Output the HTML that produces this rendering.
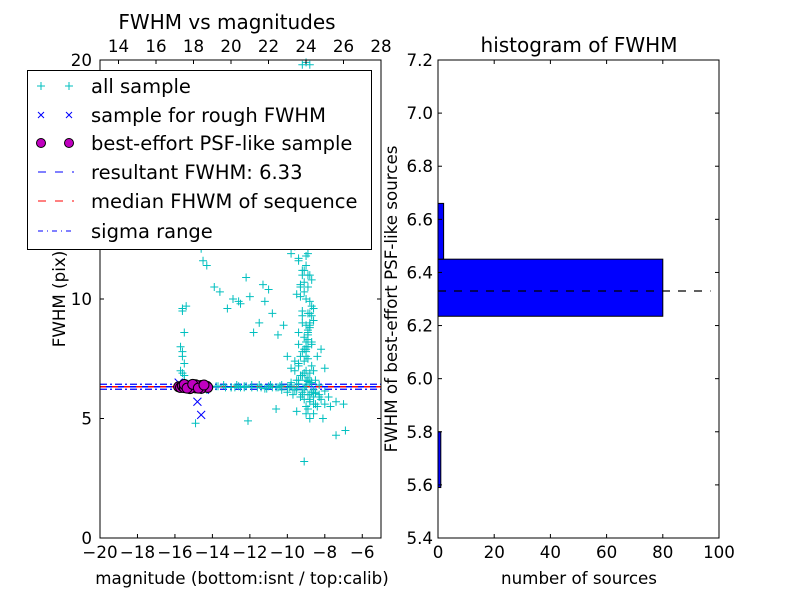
<!DOCTYPE html>
<html><head><meta charset="utf-8"><style>
body{margin:0;background:#fff;}
svg{display:block;font-family:"DejaVu Sans","Liberation Sans",sans-serif;}
</style></head><body>
<svg id="fig" width="800" height="600" viewBox="0 0 800 600"></svg>
<script>
// ---- data ----
const allMag = [-15.6,-15.5,-15.7,-15.6,-15.5,-15.6,-15.4,-15.6,-15.5,-15.6,-15.7,-15.5,-14.6,-14.5,-14.3,-14.8,-13.9,-13.6,-13.2,-12.9,-12.5,-12.2,-12.0,-11.8,-11.5,-11.2,-11.0,-10.8,-10.5,-10.2,-10.0,-9.8,-9.6,-9.4,-9.2,-9.0,-8.8,-8.6,-8.4,-8.2,-8.0,-15.8,-15.3,-15.1,-14.9,-14.2,-13.8,-13.4,-13.0,-12.6,-12.3,-11.9,-11.4,-11.0,-10.6,-10.3,-9.9,-9.5,-9.1,-8.7,-8.3,-7.8,-7.4,-7.0,-14.6,-14.5,-14.3,-13.0,-12.7,-12.5,-12.2,-11.6,-11.2,-10.9,-10.5,-10.3,-10.0,-9.8,-9.7,-9.5,-9.4,-9.3,-9.2,-9.1,-9.0,-8.9,-8.8,-8.7,-8.6,-8.5,-9.6,-9.4,-9.3,-9.1,-9.0,-8.9,-8.8,-8.7,-8.6,-9.5,-9.3,-9.2,-9.0,-8.9,-8.8,-8.7,-9.4,-9.2,-9.1,-9.0,-8.9,-8.8,-9.3,-9.1,-9.0,-8.8,-9.6,-9.2,-9.0,-8.7,-9.3,-9.0,-8.9,-8.6,-9.2,-9.1,-9.4,-8.8,-8.5,-8.3,-8.0,-7.7,-9.6,-9.2,-8.9,-8.6,-9.0,-8.8,-9.9,-10.2,-9.5,-9.3,-9.1,-9.8,-8.9,-8.7,-9.2,-9.0,-8.8,-11.3,-12.6,-14.9,-12.1,-10.6,-7.4,-6.9,-9.1,-9.3,-9.0,-9.4,-9.2,
 -9.1,-9.0,-8.9,-8.8,-9.2,-9.0,-8.9,-8.8,-8.7,-9.1,-9.0,-8.9,-8.8,-9.2,-9.1,-8.9,-8.7,-9.0,-8.9,-8.8,-9.3,-9.1,-9.0,-8.8,-8.6,-9.0,-8.9,-8.7,-9.4,-9.2,-9.0,-8.8,-8.5,-8.2,-8.4,-8.6,-8.1,-8.9,-9.5,-9.7,-10.0,-10.4,-10.8,-11.1,-11.5,-11.9,-12.3,-12.8,-13.3,-13.7,-14.1,-9.8,-9.4,-9.6,-8.3,-8.0,-8.5,-8.7,-8.9,-9.2,-9.5];
const allFwhm = [7.6,7.3,7.0,6.9,8.6,9.6,9.7,9.5,6.8,7.8,8.0,6.6,12.1,11.6,11.4,12.6,10.5,10.3,9.6,10.0,9.8,10.9,10.1,8.6,9.0,9.9,10.4,9.4,8.5,8.9,7.6,7.1,7.4,8.1,9.3,7.8,8.8,9.1,7.6,7.9,7.1,6.35,6.3,6.4,6.35,6.3,6.35,6.4,6.3,6.35,6.3,6.4,6.3,6.35,6.3,6.4,6.3,6.2,6.3,6.1,6.0,5.9,5.7,5.6,6.4,6.3,6.2,6.3,6.4,6.3,6.35,6.3,6.25,6.4,6.3,6.2,6.1,6.5,6.0,6.3,6.6,5.9,6.8,6.2,6.4,6.0,5.8,6.5,5.6,6.1,7.0,7.3,7.6,7.9,8.2,8.6,8.9,9.3,9.6,10.2,10.6,11.0,11.4,11.9,12.3,12.8,7.2,7.8,8.4,8.9,9.4,9.9,10.5,11.2,11.8,13.3,13.0,12.9,13.5,10.8,6.8,7.6,8.0,6.2,9.0,10.3,11.6,6.9,6.6,5.9,5.6,5.5,12.2,12.4,11.0,7.0,5.2,5.0,13.3,12.8,14.0,14.5,13.9,11.9,8.3,9.7,19.8,19.9,19.8,10.6,9.9,4.8,4.9,5.4,4.3,4.5,3.2,13.0,12.6,11.7,11.2,10.7,
 8.0,8.5,9.0,9.5,10.0,10.5,11.0,8.2,7.4,7.0,6.7,6.5,6.1,5.8,6.6,7.2,7.9,8.7,9.4,10.1,6.9,6.4,6.0,5.9,5.5,7.5,8.1,8.6,6.8,6.6,5.7,5.6,5.8,5.5,5.2,5.0,5.4,5.3,6.2,6.3,6.35,6.3,6.25,6.4,6.3,6.35,6.3,6.3,6.35,6.3,6.4,6.45,6.2,6.4,6.15,6.05,6.5,6.55,6.0,6.6,6.7];
const roughMag = [-14.8,-14.6,-15.5,-15.0,-15.8,-14.4];
const roughFwhm = [5.7,5.15,6.4,6.3,6.5,6.2];
const psfMag = [-15.8,-15.7,-15.6,-15.5,-15.4,-15.3,-15.2,-15.1,-15.0,-14.9,-14.8,-14.7,-14.6,-14.5,-14.4,-14.3,-14.25,-15.5,-15.2,-14.9,-14.6,-15.35,-15.05,-14.75,-14.45];
const psfFwhm = [6.33,6.3,6.36,6.29,6.35,6.32,6.37,6.3,6.34,6.28,6.36,6.31,6.38,6.3,6.33,6.35,6.3,6.42,6.25,6.41,6.26,6.27,6.43,6.27,6.4];
const resultFwhm = 6.33;
const xTicksBottom = [-20,-18,-16,-14,-12,-10,-8,-6];
const xTicksTop = [14,16,18,20,22,24,26,28];
const yTicksLeft = [0,5,10,20];
const histEdges = [5.59,5.80,6.02,6.235,6.45,6.66];
const histCounts = [1,0,0,80,2];
const histYTicks = [5.4,5.6,5.8,6.0,6.2,6.4,6.6,6.8,7.0,7.2];
const histXTicks = [0,20,40,60,80,100];

const NS="http://www.w3.org/2000/svg";
const svg=document.getElementById('fig');
function mk(tag,attrs,parent){const e=document.createElementNS(NS,tag);for(const k in attrs)e.setAttribute(k,attrs[k]);(parent||svg).appendChild(e);return e;}
function txt(x,y,s,size,anchor,extra,parent){const t=mk('text',Object.assign({x:x,y:y,'font-size':size,'text-anchor':anchor||'middle',fill:'#000'},extra||{}),parent);t.textContent=s;return t;}

const L={x0:100,x1:381,y0:60,y1:538};
const lx=m=>L.x0+(m+20)/15*(L.x1-L.x0);
const ltop=m=>118.5+(m-14)*18.75;
const ly=f=>L.y1-f/20*(L.y1-L.y0);

const gL=mk('g',{});


const lines=mk('g',{},gL);


mk('line',{x1:L.x0,x2:L.x1,y1:ly(resultFwhm)-2.5,y2:ly(resultFwhm)-2.5,stroke:'#0000ff','stroke-width':1.2,'stroke-dasharray':'7,3,2,3'},lines);
mk('line',{x1:L.x0,x2:L.x1,y1:ly(resultFwhm)+2.5,y2:ly(resultFwhm)+2.5,stroke:'#0000ff','stroke-width':1.2,'stroke-dasharray':'7,3,2,3'},lines);
const gA=mk('g',{stroke:'#00bfbf','stroke-width':1},gL);


for(let i=0;i<allMag.length;i++){const x=lx(allMag[i]),y=ly(allFwhm[i]);
 const p=mk('path',{d:`M${x-4},${y}H${x+4}M${x},${y-4}V${y+4}`},gA);
 
 }
const gR=mk('g',{stroke:'#0000ff','stroke-width':1},gL);


for(let i=0;i<roughMag.length;i++){const x=lx(roughMag[i]),y=ly(roughFwhm[i]);
 const p=mk('path',{d:`M${x-4},${y-4}L${x+4},${y+4}M${x-4},${y+4}L${x+4},${y-4}`},gR);
 
 }
const gP=mk('g',{fill:'#bf00bf',stroke:'#000','stroke-width':1},gL);


for(let i=0;i<psfMag.length;i++){const c=mk('circle',{cx:lx(psfMag[i]),cy:ly(psfFwhm[i]),r:5},gP);
 
 }
mk('line',{x1:L.x0,x2:L.x1,y1:ly(resultFwhm),y2:ly(resultFwhm),stroke:'#ff0000','stroke-width':1.5,'stroke-dasharray':'6,6'},lines);
mk('line',{x1:L.x0+6,x2:L.x1,y1:ly(resultFwhm),y2:ly(resultFwhm),stroke:'#0000ff','stroke-width':1.5,'stroke-dasharray':'6,6'},lines);
mk('rect',{x:L.x0,y:L.y0,width:L.x1-L.x0,height:L.y1-L.y0,fill:'none',stroke:'#000'},gL);
xTicksBottom.forEach(v=>{const x=lx(v);mk('line',{x1:x,x2:x,y1:L.y1,y2:L.y1-4,stroke:'#000'},gL);
 const t=txt(x,L.y1+20,v<0?'\u2212'+(-v):String(v),16.7,'middle',{},gL);});
xTicksTop.forEach(v=>{const x=ltop(v);mk('line',{x1:x,x2:x,y1:L.y0,y2:L.y0+4,stroke:'#000'},gL);
 const t=txt(x,L.y0-8,String(v),16.7,'middle',{},gL);});
yTicksLeft.forEach(v=>{const y=ly(v);mk('line',{x1:L.x0,x2:L.x0+4,y1:y,y2:y,stroke:'#000'},gL);mk('line',{x1:L.x1,x2:L.x1-4,y1:y,y2:y,stroke:'#000'},gL);
 const t=txt(L.x0-8,y+6,String(v),16.7,'end',{},gL);});
let t=txt(242,584,'magnitude (bottom:isnt / top:calib)',16.7);
t=txt(65,299,'FWHM (pix)',16.7,'middle',{transform:'rotate(-90 65 299)'});
t=txt(227,29,'FWHM vs magnitudes',20);

const lg=mk('g',{});


mk('rect',{x:27.5,y:70.5,width:344,height:179,fill:'#fff',stroke:'#000'},lg);
const legLabels=['all sample','sample for rough FWHM','best-effort PSF-like sample','resultant FWHM: 6.33','median FHWM of sequence','sigma range'];
const legY=[86,115,143,172,201,231];
legLabels.forEach((s,i)=>{const y=legY[i];
 const e=mk('g',{},lg);
 if(i===0){[41,69].forEach(x=>mk('path',{d:`M${x-4},${y}H${x+4}M${x},${y-4}V${y+4}`,stroke:'#00bfbf'},e));}
 if(i===1){[41,69].forEach(x=>mk('path',{d:`M${x-3},${y-3}L${x+3},${y+3}M${x-3},${y+3}L${x+3},${y-3}`,stroke:'#0000ff'},e));}
 if(i===2){[41,69].forEach(x=>mk('circle',{cx:x,cy:y,r:4.5,fill:'#bf00bf',stroke:'#000'},e));}
 if(i===3)mk('line',{x1:38,x2:74,y1:y,y2:y,stroke:'#0000ff','stroke-dasharray':'8,9'},e);
 if(i===4)mk('line',{x1:38,x2:74,y1:y,y2:y,stroke:'#ff0000','stroke-dasharray':'8,9'},e);
 if(i===5)mk('line',{x1:38,x2:74,y1:y,y2:y,stroke:'#0000ff','stroke-dasharray':'5,4,1,4'},e);
 txt(91,y+7,s,19.5,'start',{},e);});

const R={x0:438,x1:719,y0:60,y1:538};
const rx=c=>R.x0+c/100*(R.x1-R.x0);
const ry=v=>R.y1-(v-5.4)/1.8*(R.y1-R.y0);
const gH=mk('g',{});


histCounts.forEach((c,i)=>{if(c<=0)return;
 const r=mk('rect',{x:R.x0,y:ry(histEdges[i+1]),width:rx(c)-R.x0,height:ry(histEdges[i])-ry(histEdges[i+1]),fill:'#0000ff',stroke:'#000'},gH);
 });
const dl=mk('line',{x1:R.x0,x2:rx(97),y1:ry(resultFwhm),y2:ry(resultFwhm),stroke:'#000','stroke-width':1.3,'stroke-dasharray':'8,8'},gH);

mk('rect',{x:R.x0,y:R.y0,width:R.x1-R.x0,height:R.y1-R.y0,fill:'none',stroke:'#000'},gH);
histXTicks.forEach(v=>{const x=rx(v);mk('line',{x1:x,x2:x,y1:R.y1,y2:R.y1-4,stroke:'#000'},gH);mk('line',{x1:x,x2:x,y1:R.y0,y2:R.y0+4,stroke:'#000'},gH);
 const t=txt(x,R.y1+20,String(v),16.7,'middle',{},gH);});
histYTicks.forEach(v=>{const y=ry(v);mk('line',{x1:R.x0,x2:R.x0+4,y1:y,y2:y,stroke:'#000'},gH);mk('line',{x1:R.x1,x2:R.x1-4,y1:y,y2:y,stroke:'#000'},gH);
 const t=txt(R.x0-5,y+6,v.toFixed(1),16.7,'end',{},gH);});
t=txt(579,584,'number of sources',16.7);
t=txt(397,299,'FWHM of best-effort PSF-like sources',16.7,'middle',{transform:'rotate(-90 397 299)'});
t=txt(579,52,'histogram of FWHM',20);
</script>
</body></html>
